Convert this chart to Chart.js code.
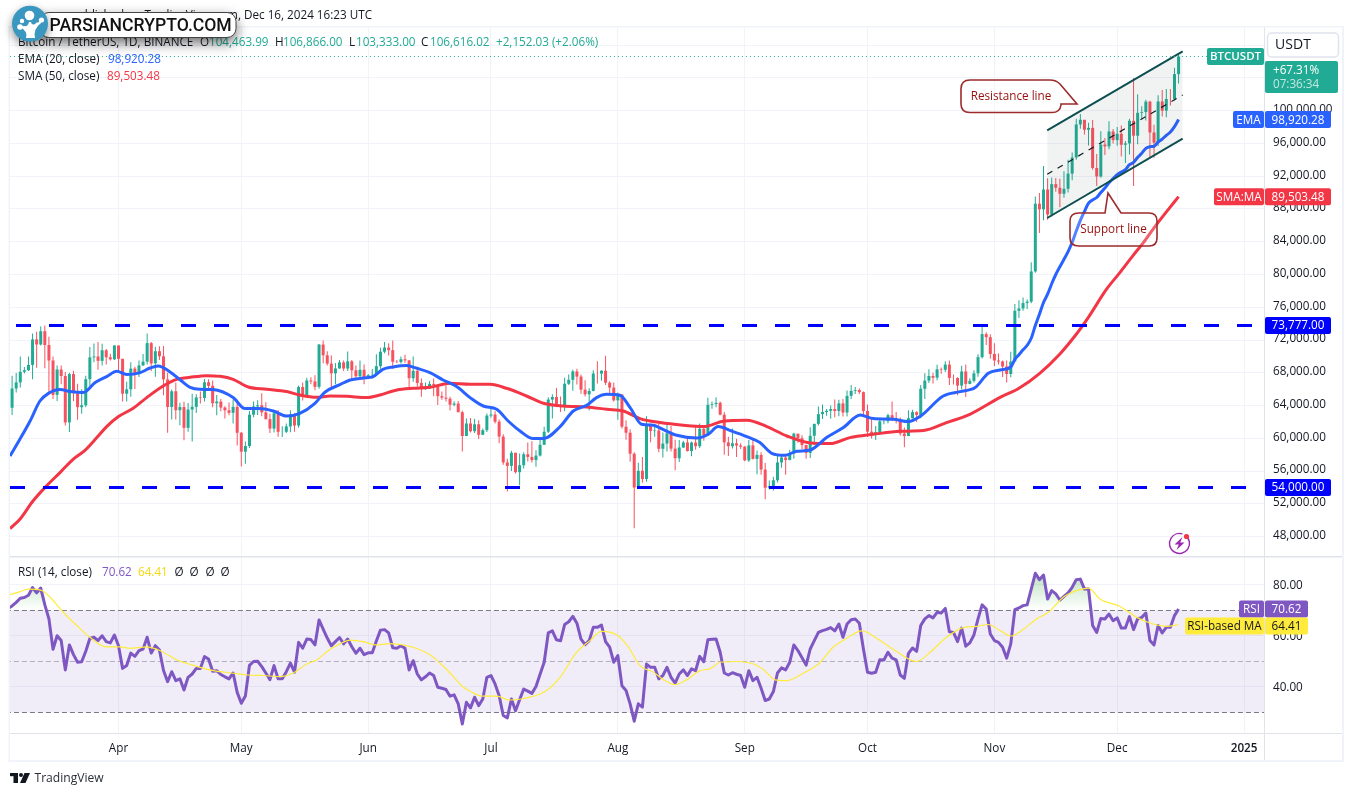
<!DOCTYPE html>
<html><head><meta charset="utf-8">
<script src="https://cdn.jsdelivr.net/npm/chart.js@4"></script>
<style>html,body{margin:0;padding:0;background:#fff}canvas{display:block}</style>
</head><body><canvas id="c" width="1352" height="796"></canvas>
<script>
// ---------- data ----------
const firstCandleDay = -26; // days relative to 1 Apr 2024
const opens = [
63724,66074,66823,68124,68313,68955,72078,71452,73072,71388,69499,65300,68393,67609,61937,67840,65501,63796,64037,67211,69880,69988,69455,70744,69892,69645,
71333,69702,65446,65980,68508,67837,68896,69360,71620,69146,70631,70006,67195,63818,65738,63426,63811,61276,63512,63843,64994,64927,66837,66407,64276,64481,63755,63419,63113,63841,
60672,58364,59060,62882,63892,64031,63161,62334,61187,63049,60792,60793,61448,62901,61552,66267,65231,67051,66940,66278,71446,70136,69122,67929,68526,69265,68518,69394,68296,67578,68364,
67491,67706,67751,68804,70567,71082,70757,69342,69305,69648,69512,67332,68241,66756,66011,66191,66639,66490,65140,64960,64828,64096,64245,63180,60277,61806,60864,61706,60427,60986,
62772,62900,62028,60208,57050,56628,58230,55857,56714,58050,57725,57339,57889,59204,60797,64724,65043,64087,63987,66660,67139,68165,67532,65936,65372,65777,67907,67896,68249,66784,66188,
64628,65354,61415,60680,58116,53991,56034,55027,61710,60880,60945,58719,59354,60609,58739,57560,58874,59491,58439,59479,59034,61159,60381,64094,64178,64333,62880,59504,59027,59388,59119,
58974,57301,59132,57487,57970,56180,53962,54160,54869,57050,57649,57343,58127,60571,60005,59182,58212,60309,61759,62947,63201,63348,63578,63339,64262,63143,65181,65790,65887,65635,
63329,60805,60649,60754,62067,62089,62818,62236,62131,60582,60274,62445,63193,62851,66046,67042,67612,67399,68418,68362,69001,67367,67361,66432,68161,66642,67014,67929,69907,72720,72339,
70292,69496,69374,68775,67850,69372,75571,75857,76509,76677,80370,88647,87952,90375,87325,91032,90586,89855,90464,92310,94286,98317,98892,97672,97900,93010,91965,95864,95643,97460,
96407,97185,95840,96002,98768,96945,99740,99831,101109,97335,96092,101125,100002,101424,101420,104463];
const closes = [
66074,66823,68124,68313,68955,72078,71452,73072,71388,69499,65300,68393,67609,61937,67840,65501,63796,64037,67211,69880,69988,69455,70744,69892,69645,71333,
69702,65446,65980,68508,67837,68896,69360,71620,69146,70631,70006,67195,63818,65738,63426,63811,61276,63512,63843,64994,64927,66837,66407,64276,64481,63755,63419,63113,63841,60672,
58364,59060,62882,63892,64031,63161,62334,61187,63049,60792,60793,61448,62901,61552,66267,65231,67051,66940,66278,71446,70136,69122,67929,68526,69265,68518,69394,68296,67578,68364,67491,
67706,67751,68804,70567,71082,70757,69342,69305,69648,69512,67332,68241,66756,66011,66191,66639,66490,65140,64960,64828,64096,64245,63180,60277,61806,60864,61706,60427,60986,62772,
62900,62028,60208,57050,56628,58230,55857,56714,58050,57725,57339,57889,59204,60797,64724,65043,64087,63987,66660,67139,68165,67532,65936,65372,65777,67907,67896,68249,66784,66188,64628,
65354,61415,60680,58116,53991,56034,55027,61710,60880,60945,58719,59354,60609,58739,57560,58874,59491,58439,59479,59034,61159,60381,64094,64178,64333,62880,59504,59027,59388,59119,58974,
57301,59132,57487,57970,56180,53962,54160,54869,57050,57649,57343,58127,60571,60005,59182,58212,60309,61759,62947,63201,63348,63578,63339,64262,63143,65181,65790,65887,65635,63329,
60805,60649,60754,62067,62089,62818,62236,62131,60582,60274,62445,63193,62851,66046,67042,67612,67399,68418,68362,69001,67367,67361,66432,68161,66642,67014,67929,69907,72720,72339,70292,
69496,69374,68775,67850,69372,75571,75857,76509,76677,80370,88647,87952,90375,87325,91032,90586,89855,90464,92310,94286,98317,98892,97672,97900,93010,91965,95864,95643,97460,96407,
97185,95840,96002,98768,96945,99740,99831,101109,97335,96092,101125,100002,101424,101420,104463,106616];
const highs = [
67637,67980,69990,68700,70000,72800,73000,73650,73777,72400,70000,68900,68900,68100,68000,68240,66650,65975,67620,71150,71560,71770,71550,70900,70320,71370,
71290,69700,66900,69290,68725,69500,70285,72800,71760,71170,71230,71260,68000,65950,66800,64350,64470,64300,65450,65390,65700,67230,67200,67070,65290,64800,63900,64370,64730,64700,
60780,59600,63320,64500,64650,65500,64400,62990,63400,63450,61480,61800,63420,63080,66450,66800,67400,67450,67700,71500,71950,70630,70100,69200,69560,69500,70600,69550,68900,69500,69020,
67850,68450,70270,71060,71760,71600,71950,69560,70000,70200,69560,70000,68450,67300,66800,67000,67300,66080,65700,66480,65070,64520,64550,63370,62430,62480,62370,62200,61200,63030,
63860,63290,62280,60500,57500,58480,58240,58150,58300,59470,59650,58530,59850,61420,65000,65390,66130,65100,67390,67780,68380,68500,67800,67100,66120,68300,69400,68320,70080,66950,66800,
65590,65000,62200,61100,58300,57000,57700,62700,61800,61450,61780,60700,61800,61500,59830,59800,59700,60270,59620,61400,61800,61400,64950,64500,65000,64500,63200,60200,61200,59950,59400,
59050,59800,59800,58500,58300,56990,54850,55300,58100,58000,58000,58600,60660,60400,60380,59210,61340,61780,63880,64130,63560,64000,64740,64700,64800,65840,66500,66260,66080,65700,
64130,62390,61500,62500,62370,62980,64480,63200,62540,61320,63420,63480,63300,66500,67950,68420,68000,68970,68650,69400,69500,67800,67450,68850,69000,67320,68320,70270,73620,72950,72700,
71600,70350,69500,69500,70580,76400,76850,77200,76950,81500,89530,89950,93260,91760,91850,91770,91700,92600,94000,94900,99000,99590,98770,98540,98870,94700,97500,96650,98700,97770,
98000,98200,96300,99000,104000,102000,100550,101350,101200,98270,101890,102540,102650,102660,105250,106866];
const lows = [
62848,65600,66200,67900,68200,67200,68600,71330,68555,65600,64800,64550,66600,61550,60775,64530,62260,63000,63790,66385,69280,68380,68900,69000,69500,69560,
68060,64500,64490,65060,66010,67490,68860,69000,68210,67520,69560,65250,60660,62300,62300,61600,59770,60800,59600,63100,64240,64500,65800,63800,62800,63300,62400,62800,61800,59120,
56550,56900,58800,62570,62850,62700,62300,60630,60700,60180,60170,60630,60750,60800,61300,64600,65100,66600,65860,66060,69160,68900,66050,66600,68500,68200,68200,67200,67100,67120,66600,
67380,67260,67600,68500,70380,70120,68500,69200,69130,69210,66050,66900,66300,65060,65900,66020,65130,64060,64690,64500,63380,63900,63180,58400,60250,60720,60630,59900,60400,60770,
62500,61800,59400,56770,53500,56000,55700,54260,56300,57150,57050,56530,57770,59200,60630,62400,63900,63200,63300,66500,65800,66570,65440,65100,63400,65750,66700,67030,66500,65300,64500,
62250,61200,59830,57120,49000,53900,54560,54700,59500,60200,58300,57650,58400,58400,56100,57100,58800,58400,57800,58600,58800,59700,60350,63600,63800,62800,58000,57850,58750,57700,58700,
57200,57100,57400,55600,55550,52550,53740,53630,54590,56400,55540,57320,57500,59460,58700,57490,57600,59170,61570,62350,62750,62380,62560,62700,62650,62670,64800,65420,65420,62850,
60170,59980,59800,60460,61700,61820,62130,61800,60300,58900,60420,62400,62000,62440,64800,66750,66700,67100,67880,68100,66500,66570,65250,66000,65050,66600,66800,67500,69730,71400,69700,
68820,69020,67480,66800,67450,69550,74700,75580,75800,76500,80220,85070,86620,86670,87080,90090,88220,89370,90000,91500,94000,97800,97100,95750,92800,90790,91800,94600,95300,96000,
95720,94400,93600,94660,90800,95900,99000,98800,94150,94250,95690,99300,99200,100630,101230,103333];

const emaDays = [-26.5,-24.1,-21.6,-19.2,-17.2,-14.3,-11.8,-8.6,-5.7,-2.9,-0.4,2,5.3,7.7,9.7,12.6,15.4,17.5,19.9,23.1,28,30.9,34.2,37.8,41.1,44.3,48,50.5,54.1,
56.6,59.8,62.2,64.6,67.1,70.4,72.9,76.1,79.3,82.6,85.9,89.1,92.4,95.2,98.1,101.3,103.8,107.9,111.1,114.4,116.8,119.3,122.5,125,127.8,130.7,132.3,136.4,141.3,144.1,146.5,149.8,153.5,156.7,159.6,162.8,165.7,169,173,177.1,181.2,184.4,189.3,193,195.8,201.5,205.6,209.3,212.5,215.4,
218,219,220,221,222,223,224,225,226,227,228,229,230,231,232,233,234,235,236,237,238,239,240,241,242,243,244,245,246,247,248,249,250,251,252,253,254,255,256,257,258,259];
const emaValues = [57836,59876,62110,64552,65455,65944,65700,65578,66798,67530,68178,67775,68020,68580,68825,68093,66994,66225,65980,65944,64967,63624,63624,63331,62720,63050,64270,65651,66553,
67116,67360,67530,68423,68703,68874,68545,68020,67116,66310,64967,63941,63538,62110,60889,59960,59960,61426,63331,64027,64967,65370,65248,63746,61707,61585,61255,60364,60035,60486,61426,60889,60206,59472,58166,57922,58410,58570,60083,61304,62842,62403,62318,62037,62647,65163,65700,66188,67934,68337,
68700,69625,70200,70800,71360,72220,73780,75130,76580,77590,78870,80000,80940,81850,82800,83940,85300,86600,87700,88700,89100,89400,90000,90550,91200,91700,92200,92500,92800,93400,93700,94300,94800,95400,95600,95650,96170,96530,96990,97400,98050,98920.28];

const smaDays = [-26.5,-24.1,-20.9,-17.2,-14.3,-11.1,-8.2,-5.3,-2.9,0,3.6,6.9,10.9,14.2,17.5,21.5,24.8,28,31.7,36.2,41.1,44.3,48.4,51.7,55.8,60.6,63.9,68,72,76.1,81,85.9,90.8,94.8,99.7,103.8,108.7,114.4,119.3,123.3,127.4,132.3,138,142.9,147.8,153.5,158.4,163.3,169,173.9,178.7,184.4,191,196.6,202.3,208,215.4,220,225,230,234,237,241.4,244.6,248,250.4,253,256.9,259];
const smaValues = [48970,50106,52342,54381,55810,57435,58533,60083,61426,62647,63661,64967,66383,67201,67445,67650,67568,67201,66261,65980,65700,65285,65004,65163,65126,64967,65285,65895,66102,66225,66713,66591,66591,66102,65163,64271,63941,63819,63538,63331,62403,61914,61585,61426,62073,62195,61426,60278,59424,59350,60083,60486,60852,60938,61914,62928,65004,66100,67900,70300,72700,74800,78200,80200,82400,83890,85700,88200,89503.48];

const firstRsiDay = -27;
const rsiValues = [70.8,
71.8,73.2,74.8,75.1,76,79,76.9,78.8,72.2,66.7,54.8,60.1,58.2,46.7,56.5,52.7,49.7,49.9,54,59,59.5,58.2,60.1,57.8,57.3,60.4,
56.2,47.3,48.4,53.3,52,54.3,54.9,59.5,53.3,56.2,54.5,46.5,42.1,46,42.5,43.2,38.8,43.8,45.1,47.3,47.3,51.9,51,46.2,46.4,44.9,44,43.2,45.5,37.9,33.6,36.5,48.5,50,50.1,48,45.5,42.9,48.4,43.2,43.2,46,49.4,45.8,57.5,55.2,58.8,58.6,56.5,66.3,62.7,59.2,56.2,57.8,59.4,56.9,58.8,55.8,53.2,55.2,52.7,53.4,53.4,58,62.3,62.5,61.2,55.4,55.2,56.2,55.2,46.7,50.3,45.1,42.8,44,45.5,44.5,39.9,
39.5,39,36.4,36.9,33.4,25.5,34,31.8,36,32.7,35.3,43.8,44.5,41.2,36.6,28.8,27.9,35.3,30.7,35,39.2,38.4,37.5,40.2,45,49.7,61.2,62,58.5,58.1,64.5,65.6,67.7,65,58.8,56.6,58.2,63.4,63.4,64.3,57.8,55.6,49.7,52.3,40.5,38.6,33.4,26.6,33.4,32.1,49,47.7,47.7,43.2,44.5,47.7,43.8,41.5,45.1,46.7,44.5,47.1,46.4,52,49.9,58.5,58.7,58.8,53.6,45.5,44.7,45.6,45,44.5,39.9,46.4,42.5,43.8,39.5,34.7,35.3,38.2,45.5,47.5,46.7,49.7,56.5,54.3,51.5,48.6,54.9,58.2,61.4,62.1,62.6,63.3,62,64.7,59.5,64.7,66.4,66.7,65,54.9,45.8,45.4,45.8,
50.7,50.6,53.6,51.3,50.6,44.7,43.4,53.2,55.3,54,64.1,66.7,68,67.1,69.3,69,70.8,61.7,61.4,57.8,63.1,56,57.3,60.4,66.7,72.2,70.6,60.8,58.2,57.5,55.6,51.3,56.9,70.3,71,71.9,72.2,78.4,84.6,82.1,83.9,74.5,77.8,76.5,74.1,75.5,76.9,79.1,82.1,82.3,78.4,78.4,64.1,61.4,66.9,66.7,68.6,66,67.1,63.1,63.1,67.6,62.5,66.7,67.3,69,58.2,56.5,64.1,61.2,63.4,63.4,68,70.62];

const rsiMaDays = [-26.5,-24,-22,-19,-16.7,-13.5,-10.2,-7,-2.9,0.4,2.8,6.9,10.1,14.2,19.1,23.2,28.1,31.7,35.4,39.5,42.7,46,48.4,51.3,54.1,56.5,59.8,62.7,66.3,72,76.1,78.5,81,83.8,85.9,89.1,92.4,95.6,98.5,101.4,104.2,107.9,111.9,115.2,118,122.1,124.6,127.4,130.7,133.1,136,138.8,142.1,144.5,147,151,155.5,158,160.4,163.2,167.3,171,174.6,177.9,181.6,186,190.1,195,198.3,202,206,209.7,212.5,215.4,218,221,224.3,227.2,230.8,234,237,239.8,244.7,248.8,252,256.1,259];
const rsiMaValues = [76.2,77.4,78.4,78,75.2,69.3,64.1,59.5,55.7,55.7,55.2,55.7,54.3,50.7,48.1,46.4,45.4,44.7,44.5,44.1,45.5,49,50.6,54.3,56.9,58.4,57.8,56.5,57,55.6,52.6,49.4,45.5,40.6,38.3,36.4,36.4,34.9,35.3,36.4,38.2,43.8,53.6,58.2,61.8,60.1,55.6,48.4,45.8,42.9,40.9,42.8,46.4,47.1,49.7,50,48.8,46.2,42.8,42.5,45.4,49,55.6,59.1,62,58.3,53.9,50,53.6,59.1,63.1,63.8,64.5,62.1,60,62.5,66.7,69.3,75.2,77.8,78.8,74.5,71.6,67.3,65.1,63.8,64.41];

const priceTicks = [48000,52000,56000,60000,64000,68000,72000,76000,80000,84000,88000,92000,96000,100000,104000,108000];
const rsiTicks = [40,60,80];
const monthDays = [0,30,61,91,122,153,183,214,244,275];
const monthLabels = ['Apr','May','Jun','Jul','Aug','Sep','Oct','Nov','Dec','2025'];
const resistanceLevel = 73777, supportLevel = 54000;
const channelDays = [226.9,260];
const channelTop = [97604,107250], channelMid = [92232,101915], channelBottom = [86896,96590];
const header = ['Bitcoin / TetherUS, 1D, BINANCE','104,463.99','106,866.00','103,333.00','106,616.02','+2,152.03 (+2.06%)'];

[[opens,286],[closes,286],[highs,286],[lows,286],[rsiValues,287]].forEach(([a,n],i)=>{ if(a.length!==n) throw new Error('len '+i+' '+a.length); });
if(emaDays.length!==emaValues.length) throw new Error('ema '+emaDays.length+' '+emaValues.length);
if(smaDays.length!==smaValues.length) throw new Error('sma '+smaDays.length+' '+smaValues.length);
if(rsiMaDays.length!==rsiMaValues.length) throw new Error('rsima '+rsiMaDays.length+' '+rsiMaValues.length);

// ---------- styles ----------
const FONT = '"Open Sans", sans-serif';
const UP='#22ab94', DOWN='#f7525f', BLUE='#2962ff', RED='#f23645', PURPLE='#7e57c2', YEL='#ffeb3b', INK='#131722', RULE='#e0e3eb', GRID='#f0f3fa';
const D0=-26.51, D1=279.87;
const pairs=(xs,ys)=>xs.map((x,i)=>({x,y:ys[i]}));
const candleColors = closes.map((c,i)=> c>=opens[i]?UP:DOWN);
const line=(id,data,color,width,extra)=>Object.assign({type:'line',xAxisID:'x',yAxisID:id,data,borderColor:color,borderWidth:width,pointRadius:0,tension:0,fill:false},extra||{});

const ctxMain=document.getElementById('c').getContext('2d');
const obGrad=ctxMain.createLinearGradient(0,572,0,610);
obGrad.addColorStop(0,'rgba(76,175,80,0.38)');obGrad.addColorStop(1,'rgba(76,175,80,0)');

const F12='11.7px '+FONT;
function txt(c,s,x,y,col,font,al){c.fillStyle=col;c.font=font||F12;c.textAlign=al||'left';c.textBaseline='middle';c.fillText(s,x,y+0.7);}
function tag(c,x0,x1,y0,y1,col){c.fillStyle=col;c.beginPath();c.roundRect(x0,y0,x1-x0,y1-y0,2);c.fill();}

const overlay={id:'overlay',afterDraw(ch){
  const c=ch.ctx, Y=ch.scales.y, R=ch.scales.rsi, f12=F12;
  c.save();
  // frame and separators
  c.fillStyle=RULE;
  c.fillRect(1264,27,1,734); c.fillRect(10,733,1333,1); c.fillRect(10,556,1333,1.5);
  c.fillStyle=GRID;
  c.fillRect(8.5,26,1335,1.5); c.fillRect(8.5,26,1.5,736); c.fillRect(1342,26,2,736); c.fillRect(8.5,760,1335,2);

  // callouts
  const calloutFill='rgba(255,255,255,0.2)';
  c.lineWidth=1.6;c.strokeStyle='#9c2b2b';c.fillStyle=calloutFill;
  c.beginPath();c.moveTo(970,80);c.lineTo(1050,80);c.quadraticCurveTo(1056,80,1060,84);c.lineTo(1077,104);c.lineTo(1061,104);c.lineTo(1061,105);c.quadraticCurveTo(1060,112.5,1052,112.5);c.lineTo(970,112.5);c.quadraticCurveTo(961,112.5,961,104);c.lineTo(961,89);c.quadraticCurveTo(961,80,970,80);c.closePath();c.fill();c.stroke();
  txt(c,'Resistance line',1011,96,'#990e0e',f12,'center');
  c.fillStyle=calloutFill;
  c.beginPath();c.moveTo(1079,213);c.lineTo(1105,213);c.lineTo(1108,193);c.lineTo(1121,213);c.lineTo(1149,213);c.quadraticCurveTo(1157,213,1157,221);c.lineTo(1157,238);c.quadraticCurveTo(1157,246,1149,246);c.lineTo(1079,246);c.quadraticCurveTo(1070,246,1070,238);c.lineTo(1070,221);c.quadraticCurveTo(1070,213,1079,213);c.closePath();c.fill();c.stroke();
  txt(c,'Support line',1113.5,229,'#990e0e',f12,'center');

  // price tags
  const py=v=>Y.getPixelForValue(v);
  tag(c,1207,1264,48,65,UP); txt(c,'BTCUSDT',1235.5,56.5,'#fff','600 11.5px '+FONT,'center');
  tag(c,1265,1338,61,93,UP);
  txt(c,'+67.31%',1273,70,'#fff',f12); txt(c,'07:36:34',1273,84,'rgba(255,255,255,0.72)',f12);
  c.fillStyle='#fff';c.strokeStyle=RULE;c.lineWidth=1.5;c.beginPath();c.roundRect(1267.5,33,71,24,4);c.fill();c.stroke();
  txt(c,'USDT',1293,44,INK,'14px '+FONT,'center');

  const ey=py(emaValues[emaValues.length-1]);
  tag(c,1233,1264,ey-8.5,ey+8.5,BLUE); txt(c,'EMA',1248.5,ey,'#fff',f12,'center');
  tag(c,1265,1331,ey-8.5,ey+8.5,BLUE); txt(c,'98,920.28',1298,ey,'#fff',f12,'center');
  const sy=py(smaValues[smaValues.length-1]);
  tag(c,1214,1264,sy-8.5,sy+8.5,RED); txt(c,'SMA:MA',1239,sy,'#fff',f12,'center');
  tag(c,1265,1331,sy-8.5,sy+8.5,RED); txt(c,'89,503.48',1298,sy,'#fff',f12,'center');
  [[resistanceLevel,'73,777.00'],[supportLevel,'54,000.00']].forEach(([v,s])=>{const yy=py(v);
    tag(c,1265,1331,yy-8.5,yy+8.5,'#0000ff'); txt(c,s,1298,yy,'#fff',f12,'center');});

  // RSI tags
  const ry=R.getPixelForValue(rsiValues[rsiValues.length-1]);
  const my=ry+17;
  tag(c,1239,1264,ry-8.5,ry+8.5,PURPLE); txt(c,'RSI',1251.5,ry,'#fff',f12,'center');
  tag(c,1265,1308,ry-8.5,ry+8.5,PURPLE); txt(c,'70.62',1286.5,ry,'#fff',f12,'center');
  tag(c,1185,1264,my-8.5,my+8.5,YEL); txt(c,'RSI-based MA',1224.5,my,INK,f12,'center');
  tag(c,1265,1308,my-8.5,my+8.5,YEL); txt(c,'64.41',1286.5,my,INK,f12,'center');

  // legend rows
  txt(c,header[0],18,41.5,INK);
  [['O',200,header[1],209],['H',275,header[2],283],['L',349,header[3],356],['C',421,header[4],430]].forEach(([a,x,b,x2])=>{txt(c,a,x,41.5,INK);txt(c,b,x2,41.5,UP);});
  txt(c,header[5],496,41.5,UP);
  txt(c,'EMA (20, close)',18,59,INK); txt(c,'98,920.28',108,59,BLUE);
  txt(c,'SMA (50, close)',18,75.5,INK); txt(c,'89,503.48',107,75.5,RED);
  txt(c,'RSI (14, close)',18,571.5,INK); txt(c,'70.62',102,571.5,PURPLE); txt(c,'64.41',138,571.5,'#f5d90a');
  [179,194,210,225].forEach(x=>txt(c,'Ø',x,571.5,INK,f12,'center'));

  // top line text
  txt(c,'published on TradingView.com, Dec 16, 2024 16:23 UTC',372,15,INK,f12,'right');

  // lightning badge
  c.strokeStyle='#9c27b0';c.lineWidth=1.4;c.beginPath();c.arc(1179.5,543.5,10,-1.0,5.0);c.stroke();
  c.fillStyle='#9c27b0';c.beginPath();c.moveTo(1182.5,537);c.lineTo(1174.5,544.5);c.lineTo(1178.8,544.5);c.lineTo(1176.5,550);c.lineTo(1184.5,542.5);c.lineTo(1180.2,542.5);c.closePath();c.fill();
  c.fillStyle='#f23645';c.beginPath();c.arc(1186.5,536.5,2.6,0,7);c.fill();

  // footer
  c.fillStyle='#131722';
  c.fillRect(10,773,8,3.2);c.fillRect(13.5,773,4.5,10);
  c.beginPath();c.arc(21,775,2,0,7);c.fill();
  c.beginPath();c.moveTo(24.5,773);c.lineTo(30,773);c.lineTo(25.5,783);c.lineTo(20,783);c.closePath();c.fill();
  txt(c,'TradingView',34.5,778,'#2a2e39','12.1px '+FONT);

  // watermark
  c.save();c.shadowColor='rgba(0,0,0,0.6)';c.shadowBlur=13;c.shadowOffsetY=5;
  c.fillStyle='#fff';c.beginPath();c.roundRect(40,12.5,196,25,9);c.fill();c.restore();
  c.strokeStyle='#444';c.lineWidth=1;c.beginPath();c.roundRect(40,12.5,196,25,9);c.stroke();
  txt(c,'PARSIANCRYPTO.COM',49.5,25.5,'#111','500 17.6px Roboto, sans-serif');
  c.save();c.shadowColor='rgba(0,0,0,0.45)';c.shadowBlur=10;c.shadowOffsetY=4;
  c.fillStyle='#3a97bf';c.beginPath();c.arc(30,23.7,18,0,7);c.fill();c.restore();
  c.fillStyle='#fff';c.strokeStyle='#fff';
  [[29.5,15.5,4.8],[20,27,2.8],[22,21,2.2],[41.5,20,2.6],[37,24,1.6]].forEach(([x,y,r])=>{c.beginPath();c.arc(x,y,r,0,7);c.fill();});
  c.beginPath();c.moveTo(26,38);c.quadraticCurveTo(28,31,20,27);c.lineTo(24,26);c.quadraticCurveTo(28,27,29,22);c.lineTo(31,22);c.quadraticCurveTo(32,28,41,20);c.lineTo(41,23);c.quadraticCurveTo(33,29,35,38);c.closePath();c.fill();
  c.restore();
}};

const datasets=[
  line('y',pairs(channelDays,channelTop),'#0d4f51',2,{order:2,fill:{target:'+1',above:'rgba(55,80,75,0.07)',below:'rgba(55,80,75,0.07)'}}),
  line('y',pairs(channelDays,channelBottom),'#0d4f51',2,{order:2}),
  line('y',pairs(channelDays,channelMid),'#131722',1.2,{order:3,borderDash:[6,6]}),
  {type:'bar',label:'wicks',xAxisID:'x',yAxisID:'y',order:7,barThickness:1,grouped:false,inflateAmount:0,borderWidth:0,
    data:highs.map((h,i)=>({x:firstCandleDay+i,y:[lows[i],h]})),backgroundColor:candleColors},
  {type:'bar',label:'bodies',xAxisID:'x',yAxisID:'y',order:6,barThickness:3,grouped:false,inflateAmount:0,borderWidth:0,
    data:opens.map((o,i)=>({x:firstCandleDay+i,y:[o,closes[i]]})),backgroundColor:candleColors},
  line('y',pairs(emaDays,emaValues),BLUE,3,{order:4,cubicInterpolationMode:'monotone',borderJoinStyle:'round'}),
  line('y',pairs(smaDays,smaValues),RED,3,{order:5,cubicInterpolationMode:'monotone',borderJoinStyle:'round'}),
  line('y',pairs([D0-1,D1+1],[resistanceLevel,resistanceLevel]),'#0000ff',3,{order:3,borderDash:[15,18],borderDashOffset:22.9}),
  line('y',pairs([D0-1,D1+1],[supportLevel,supportLevel]),'#0000ff',3,{order:3,borderDash:[15,18],borderDashOffset:28.9}),
  line('y',pairs([D0-1,(1207-118.5)/4.093],[closes[285],closes[285]]),UP,1,{order:1,borderDash:[1,3]}),
  // RSI pane
  line('rsi',pairs([D0-1,D1+1],[70,70]),'#787b86',1,{order:12,borderDash:[5,3],fill:{target:{value:30},above:'rgba(126,87,194,0.11)',below:'rgba(0,0,0,0)'}}),
  line('rsi',pairs([D0-1,D1+1],[50,50]),'rgba(120,123,134,0.55)',1,{order:12,borderDash:[5,3]}),
  line('rsi',pairs([D0-1,D1+1],[30,30]),'#787b86',1,{order:12,borderDash:[5,3]}),
  line('rsi',rsiValues.map((v,i)=>({x:firstRsiDay+i,y:v})),PURPLE,3,{order:10,borderJoinStyle:'round',fill:{target:{value:70},above:obGrad,below:'rgba(0,0,0,0)'}}),
  line('rsi',pairs(rsiMaDays,rsiMaValues),YEL,1.2,{order:9,cubicInterpolationMode:'monotone'}),
];

new Chart(ctxMain,{
  type:'bar',
  data:{datasets},
  plugins:[overlay],
  options:{
    responsive:false,animation:false,devicePixelRatio:1,
    events:[],
    layout:{padding:{left:10,right:9,top:27,bottom:35}},
    plugins:{legend:{display:false},tooltip:{enabled:false},title:{display:false}},
    scales:{
      x:{type:'linear',offset:false,min:D0,max:D1,position:'bottom',
        afterBuildTicks(s){s.ticks=monthDays.map(v=>({value:v}));},
        afterFit(s){s.height=28;},
        grid:{offset:false,color:GRID,drawTicks:false},border:{display:false},
        ticks:{autoSkip:false,maxRotation:0,padding:9,color:INK,
          font:c=>({family:FONT,size:11.7,weight:c.index===9?'600':'400'}),
          callback:(v,i)=>monthLabels[i]}},
      y:{type:'linear',position:'right',stack:'panes',stackWeight:529,min:45626,max:110218,
        afterBuildTicks(s){s.ticks=priceTicks.map(v=>({value:v}));},
        afterFit(s){s.width=79;},
        grid:{color:GRID,drawTicks:false},border:{display:false},
        ticks:{padding:9,color:INK,labelOffset:-1,autoSkip:false,font:{family:FONT,size:11.7},
          callback:v=>v.toLocaleString('en-US',{minimumFractionDigits:2,maximumFractionDigits:2})}},
      rsi:{type:'linear',position:'right',stack:'panes',stackWeight:177,min:21.96,max:91.37,
        afterBuildTicks(s){s.ticks=rsiTicks.map(v=>({value:v}));},
        afterFit(s){s.width=79;},
        grid:{color:GRID,drawTicks:false},border:{display:false},
        ticks:{padding:9,color:INK,labelOffset:1,autoSkip:false,font:{family:FONT,size:11.7},
          callback:v=>v.toFixed(2)}}
    }
  }
});
</script></body></html>
